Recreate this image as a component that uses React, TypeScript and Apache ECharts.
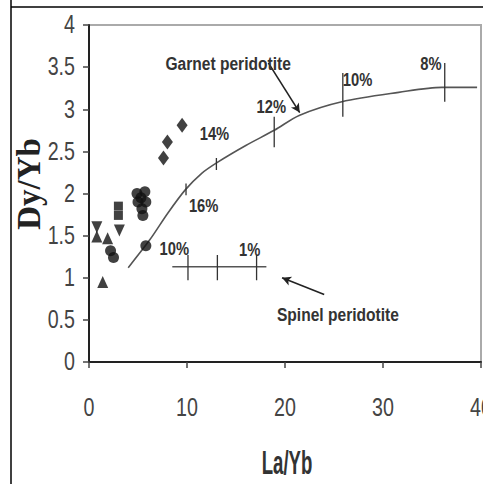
import React, { useEffect, useRef } from "react";
import * as echarts from "echarts";

// Axis ticks
const xTickValues = [0, 10, 20, 30, 40];
const xTickLabels = ["0", "10", "20", "30", "40"];
const yTickValues = [0, 0.5, 1, 1.5, 2, 2.5, 3, 3.5, 4];
const yTickLabels = ["0", "0.5", "1", "1.5", "2", "2.5", "3", "3.5", "4"];

// Sample points
const diamondX = [9.5, 8.0, 7.6];
const diamondY = [2.81, 2.61, 2.42];
const circleX = [4.9, 5.7, 5.3, 5.0, 5.8, 5.4, 5.5, 2.2, 2.5, 5.8];
const circleY = [2.0, 2.02, 1.95, 1.9, 1.9, 1.82, 1.74, 1.32, 1.24, 1.38];
const squareX = [3.0, 3.0];
const squareY = [1.85, 1.74];
const upTriX = [0.8, 1.9, 1.4];
const upTriY = [1.49, 1.47, 0.95];
const downTriX = [0.8, 3.1];
const downTriY = [1.6, 1.56];

// Garnet peridotite melting curve
const garnetX = [4.0, 6.2, 8.0, 9.8, 11.5, 13.1, 16.0, 18.9, 21.5, 25.8, 31.6, 36.0, 39.6];
const garnetY = [1.12, 1.45, 1.76, 2.04, 2.24, 2.37, 2.57, 2.75, 2.93, 3.09, 3.2, 3.26, 3.26];
const garnetTickX = [9.9, 13.0, 18.9, 25.9, 36.3];
const garnetTickLow = [1.98, 2.28, 2.55, 2.91, 3.09];
const garnetTickHigh = [2.12, 2.42, 2.91, 3.43, 3.55];
const garnetLabels = ["16%", "14%", "12%", "10%", "8%"];
const garnetLabelX = [11.7, 12.8, 18.6, 27.4, 34.9];
const garnetLabelY = [1.86, 2.71, 3.03, 3.35, 3.54];

// Spinel peridotite melting line
const spinelX = [8.5, 18.1];
const spinelY = [1.13, 1.13];
const spinelTickX = [10.1, 13.1, 17.1];
const spinelTickLow = [0.97, 0.97, 0.97];
const spinelTickHigh = [1.27, 1.27, 1.27];
const spinelLabels = ["10%", "1%"];
const spinelLabelX = [8.7, 16.4];
const spinelLabelY = [1.35, 1.34];

// Field names and arrows
const fieldNames = ["Garnet peridotite", "Spinel peridotite"];
const fieldNameX = [14.2, 25.4];
const fieldNameY = [3.54, 0.56];
const arrowFromX = [18.3, 24.0];
const arrowFromY = [3.55, 0.8];
const arrowToX = [21.5, 19.7];
const arrowToY = [2.96, 1.0];

const SANS = "'Liberation Sans', Arial, sans-serif";
const INK = "#111";
const TXT = "#333";

function pts(xs: number[], ys: number[]) {
  return xs.map((x, i) => [x, ys[i]]);
}

export default function App() {
  const ref = useRef<HTMLDivElement>(null);
  useEffect(() => {
    if (!ref.current) return;
    const chart = echarts.init(ref.current, null, { renderer: "svg" });

    const markerSeries = (data: number[][], symbol: string, size: any, rotate = 0) => ({
      type: "scatter",
      data,
      symbol,
      symbolSize: size,
      symbolRotate: rotate,
      itemStyle: { color: INK },
      z: 5,
    });

    const tickSeries = (xs: number[], lo: number[], hi: number[]) =>
      xs.map((x, i) => ({
        type: "line",
        data: [
          [x, lo[i]],
          [x, hi[i]],
        ],
        symbol: "none",
        lineStyle: { color: "#333", width: 1.3 },
        z: 3,
      }));

    const option: any = {
      animation: false,
      backgroundColor: "#fff",
      grid: {
        left: 89,
        top: 25,
        right: 2,
        bottom: 122,
        show: true,
        borderColor: "#aaa",
        borderWidth: 2,
        outerBoundsMode: "none",
        containLabel: false,
      },
      xAxis: {
        type: "value",
        min: 0,
        max: 40,
        interval: 10,
        splitLine: { show: false },
        axisLine: { show: true, onZero: false, lineStyle: { color: "#222", width: 2 } },
        axisTick: { show: true, length: 6, lineStyle: { color: "#444", width: 1.5 } },
        axisLabel: { show: false },
      },
      yAxis: {
        type: "value",
        min: 0,
        max: 4,
        interval: 0.5,
        splitLine: { show: false },
        axisLine: { show: true, onZero: false, lineStyle: { color: "#222", width: 2 } },
        axisTick: { show: true, length: 6, lineStyle: { color: "#444", width: 1.5 } },
        axisLabel: { show: false },
      },
      series: [
        {
          type: "line",
          data: pts(garnetX, garnetY),
          smooth: 0.3,
          symbol: "none",
          lineStyle: { color: "#555", width: 1.6 },
          z: 2,
        },
        {
          type: "line",
          data: pts(spinelX, spinelY),
          symbol: "none",
          lineStyle: { color: "#555", width: 1.6 },
          z: 2,
        },
        ...tickSeries(garnetTickX, garnetTickLow, garnetTickHigh),
        ...tickSeries(spinelTickX, spinelTickLow, spinelTickHigh),
        {
          type: "line",
          data: [],
          symbol: "none",
          markLine: {
            silent: true,
            symbol: ["none", "arrow"],
            symbolSize: [7, 9],
            label: { show: false },
            lineStyle: { color: "#222", width: 1.6, type: "solid" },
            data: arrowFromX.map((x, i) => [
              { coord: [x, arrowFromY[i]] },
              { coord: [arrowToX[i], arrowToY[i]] },
            ]),
          },
        },
        markerSeries(pts(diamondX, diamondY), "diamond", [11, 15]),
        markerSeries(pts(circleX, circleY), "circle", 11),
        markerSeries(pts(squareX, squareY), "rect", 9),
        markerSeries(pts(upTriX, upTriY), "triangle", [11, 12]),
        markerSeries(pts(downTriX, downTriY), "triangle", [11, 12], 180),
      ],
    };
    chart.setOption(option);

    const toPx = (x: number, y: number) =>
      chart.convertToPixel({ gridIndex: 0 }, [x, y]) as number[];
    const origin = toPx(0, 0);

    const condText = (
      text: string,
      x: number,
      y: number,
      size: number,
      bold: boolean,
      fill: string,
      align: string,
      sx: number,
      sy = 1
    ) => ({
      type: "text",
      x,
      y,
      scaleX: sx,
      scaleY: sy,
      z: 10,
      style: {
        text,
        font: `${bold ? "bold " : ""}${size}px ${SANS}`,
        fill,
        textAlign: align,
        textVerticalAlign: "middle",
      },
    });

    const graphics: any[] = [
      { type: "line", shape: { x1: 11, y1: 0, x2: 11, y2: 484 }, style: { stroke: "#000", lineWidth: 1.5 } },
      { type: "line", shape: { x1: 11, y1: 7, x2: 483, y2: 7 }, style: { stroke: "#000", lineWidth: 1.5 } },
      {
        type: "text",
        x: 29,
        y: 184,
        rotation: Math.PI / 2,
        style: {
          text: "Dy/Yb",
          font: "bold 33px 'Liberation Serif', 'Times New Roman', serif",
          fill: "#222",
          textAlign: "center",
          textVerticalAlign: "middle",
        },
      },
      condText("La/Yb", 287, 462, 30, true, "#333", "center", 0.62, 1.12),
    ];

    xTickValues.forEach((v, i) => {
      const p = toPx(v, 0);
      graphics.push(condText(xTickLabels[i], p[0], origin[1] + 46, 24, false, "#444", "center", 0.82, 1.05));
    });
    yTickValues.forEach((v, i) => {
      const p = toPx(0, v);
      graphics.push(condText(yTickLabels[i], origin[0] - 14, p[1], 24, false, "#444", "right", 0.82, 1.05));
    });
    garnetLabels.forEach((t, i) => {
      const p = toPx(garnetLabelX[i], garnetLabelY[i]);
      graphics.push(condText(t, p[0], p[1], 18, true, TXT, "center", 0.82));
    });
    spinelLabels.forEach((t, i) => {
      const p = toPx(spinelLabelX[i], spinelLabelY[i]);
      graphics.push(condText(t, p[0], p[1], 18, true, TXT, "center", 0.82));
    });
    fieldNames.forEach((t, i) => {
      const p = toPx(fieldNameX[i], fieldNameY[i]);
      graphics.push(condText(t, p[0], p[1], 19, true, TXT, "center", 0.82));
    });

    chart.setOption({ graphic: graphics });
    return () => chart.dispose();
  }, []);
  return (
    <div
      ref={ref}
      style={{ position: "fixed", left: 0, top: 0, width: 483, height: 484, background: "#fff" }}
    />
  );
}
